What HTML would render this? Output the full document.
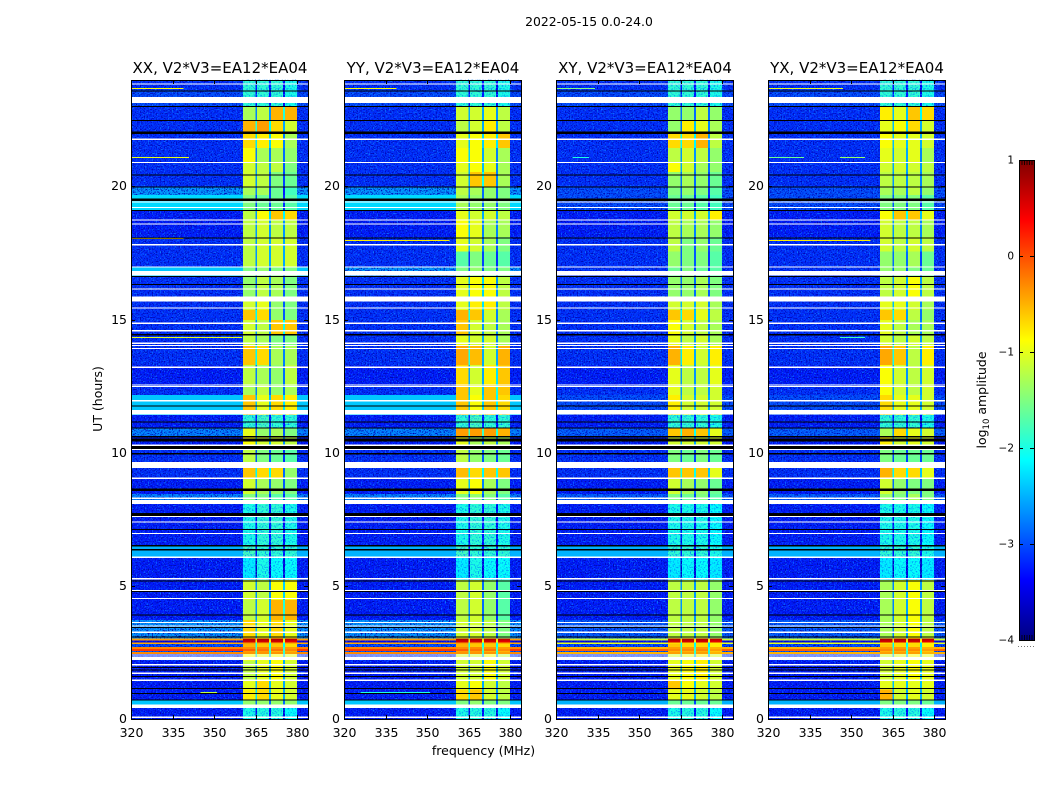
<!DOCTYPE html>
<html lang="en">
<head>
<meta charset="utf-8">
<title>2022-05-15 0.0-24.0</title>
<style>
html,body{margin:0;padding:0;background:#fff;}
svg{display:block;font-family:"DejaVu Sans","Liberation Sans",sans-serif;}
text{fill:#000;}
</style>
</head>
<body>
<svg id="figure" xmlns="http://www.w3.org/2000/svg" width="1050" height="800" viewBox="0 0 1050 800">
  <defs>
    <filter id="speckle-light" x="0" y="0" width="1" height="1" color-interpolation-filters="sRGB">
      <feTurbulence type="fractalNoise" baseFrequency="0.75" numOctaves="1" seed="4"/>
      <feColorMatrix type="matrix" values="0 0 0 0 0.05  0 0 0 0 0.5  0 0 0 0 1  4 0 0 0 -2.05"/>
    </filter>
    <filter id="speckle-dark" x="0" y="0" width="1" height="1" color-interpolation-filters="sRGB">
      <feTurbulence type="fractalNoise" baseFrequency="0.75" numOctaves="1" seed="11"/>
      <feColorMatrix type="matrix" values="0 0 0 0 0  0 0 0 0 0.02  0 0 0 0 0.7  4.5 0 0 0 -2.2"/>
    </filter>
    <filter id="speckle-band" x="0" y="0" width="1" height="1" color-interpolation-filters="sRGB">
      <feTurbulence type="fractalNoise" baseFrequency="0.7" numOctaves="1" seed="7"/>
      <feColorMatrix type="matrix" values="0 0 0 0 0  0 0 0 0 0.5  0 0 0 0 1  4 0 0 0 -2"/>
    </filter>
    <linearGradient id="jet-gradient" x1="0" y1="1" x2="0" y2="0"></linearGradient>
  </defs>
  <text x="589" y="26" font-size="12.4" text-anchor="middle">2022-05-15 0.0-24.0</text>
  <text transform="translate(102,399) rotate(-90)" font-size="12.5" text-anchor="middle">UT (hours)</text>
  <text x="483.5" y="755" font-size="12.5" text-anchor="middle">frequency (MHz)</text>
  <g id="panels"></g>
  <g id="colorbar"></g>
  <text transform="translate(986,400) rotate(-90)" font-size="12.5" text-anchor="middle">log<tspan font-size="8.5" dy="3">10</tspan><tspan dy="-3"> amplitude</tspan></text>
</svg>
<script>
// ---- data ----
const panelTitles = ["XX, V2*V3=EA12*EA04", "YY, V2*V3=EA12*EA04", "XY, V2*V3=EA12*EA04", "YX, V2*V3=EA12*EA04"];
const xTicks = [320, 335, 350, 365, 380];
const yTicks = [0, 5, 10, 15, 20];
const colorTicks = [1, 0, -1, -2, -3, -4];
const spwEdges = [[360.4, 364.9], [365.5, 369.9], [370.5, 374.9], [375.6, 380.0]];

// UT (hours) at which each row of levels begins
const rowStartUT = [0, 0.42, 0.71, 1.1, 1.46, 2.2, 2.44, 2.52, 2.55, 2.63, 2.70, 2.82, 2.87, 2.95, 3.02, 3.72, 4.47, 5.22, 6.08, 6.5, 8.07, 8.45, 9.05, 9.42, 10.14, 10.63, 10.93, 11.42, 12.17, 12.54, 13.29, 14.04, 14.46, 14.98, 15.36, 15.7, 16.63, 17.0, 17.55, 18.1, 18.74, 19.11, 19.68, 19.98, 20.55, 20.92, 21.45, 22.04, 22.49, 23.02, 23.62];

// Each row: background, spw1, spw2, spw3, spw4 (log10 amplitude)
const levelsXX = [
 [-3.25,-2.0,-1.95,-1.95,-2.1],[-2.4,-1.4,-1.4,-1.4,-1.4],[-3.25,-0.8,-0.7,-1.0,-1.1],[-3.25,-1.0,-0.7,-1.0,-1.1],[-3.25,-1.2,-1.0,-0.9,-1.1],
 [-3.15,-0.9,-1.0,-0.9,-1.0],
 [-0.3,-0.35,-0.35,-0.35,-0.4],[-2.9,-0.4,-0.4,-0.5,-0.5],[0.1,-0.1,-0.2,-0.2,-0.3],[-0.25,-0.3,-0.3,-0.35,-0.4],[-3.0,-0.5,-0.6,-0.6,-0.7],[-0.45,-0.4,-0.5,-0.5,-0.5],[-3.4,0.6,0.6,0.6,0.5],[-0.4,0.75,0.75,0.75,0.7],
 [-2.6,-0.7,-1.0,-0.7,-1.0],[-3.25,-1.2,-1.1,-0.5,-0.5],[-3.25,-1.1,-1.2,-0.9,-0.9],[-3.25,-2.2,-2.0,-2.1,-2.1],[-2.5,-1.8,-1.9,-1.9,-1.9],
 [-3.25,-2.0,-1.9,-1.9,-2.0],[-2.7,-1.5,-1.5,-1.7,-1.7],[-3.25,-1.1,-1.3,-1.4,-1.5],[-3.15,-0.6,-0.7,-0.7,-1.4],[-3.15,-1.2,-1.5,-1.6,-1.7],
 [-3.25,-0.9,-1.1,-1.1,-1.2],[-2.7,-1.0,-1.4,-1.3,-1.5],[-3.25,-1.9,-1.8,-1.9,-1.9],[-2.4,-0.6,-1.0,-0.7,-0.8],[-3.15,-1.3,-1.2,-1.4,-1.3],
 [-3.25,-1.2,-1.3,-1.4,-1.2],[-3.15,-0.6,-0.7,-1.3,-1.3],[-3.15,-1.2,-1.3,-1.5,-1.5],[-3.15,-1.1,-1.2,-0.6,-0.6],[-3.15,-0.6,-0.7,-1.4,-1.5],[-3.15,-1.1,-1.0,-1.4,-1.5],
 [-3.15,-1.4,-1.2,-1.3,-1.5],[-2.4,-1.5,-1.4,-1.5,-1.5],[-3.15,-1.2,-1.1,-1.1,-1.1],[-3.15,-1.2,-1.1,-1.1,-1.1],[-3.25,-1.2,-1.1,-1.2,-1.2],[-3.25,-1.2,-0.9,-0.6,-0.7],
 [-2.3,-1.5,-1.6,-1.6,-1.7],[-2.6,-1.3,-1.3,-1.6,-1.8],[-3.15,-1.1,-1.2,-1.5,-1.6],[-3.15,-1.1,-1.2,-1.2,-1.5],[-3.15,-0.9,-1.3,-1.3,-1.4],[-3.15,-0.7,-0.8,-0.9,-1.3],[-3.15,-0.5,-0.4,-0.7,-1.1],
 [-3.15,-1.3,-1.2,-0.5,-0.5],[-3.0,-1.9,-1.9,-1.9,-2.0],[-3.15,-1.9,-1.9,-1.9,-2.0]
];
const levelsYY = [
 [-3.25,-2.0,-1.95,-1.95,-2.1],[-2.4,-1.5,-1.4,-1.5,-1.5],[-3.25,-0.7,-0.6,-1.1,-1.2],[-3.25,-1.0,-0.9,-1.1,-1.2],[-3.25,-1.1,-1.1,-0.9,-1.1],
 [-3.15,-1.1,-1.1,-0.9,-1.2],
 [-0.3,-0.35,-0.35,-0.35,-0.4],[-2.9,-0.4,-0.4,-0.5,-0.5],[0.1,-0.1,-0.2,-0.2,-0.3],[-0.25,-0.3,-0.3,-0.35,-0.4],[-3.0,-0.5,-0.6,-0.6,-0.7],[-0.45,-0.4,-0.5,-0.5,-0.5],[-3.4,0.6,0.6,0.6,0.5],[-0.4,0.75,0.75,0.75,0.7],
 [-2.6,-1.1,-1.1,-1.2,-1.5],[-3.25,-1.2,-1.1,-1.4,-1.7],[-3.25,-1.2,-1.1,-1.4,-1.7],[-3.25,-2.2,-2.0,-2.1,-2.1],[-2.5,-1.8,-1.9,-1.9,-1.9],
 [-3.25,-2.0,-1.9,-1.9,-2.0],[-2.7,-1.5,-1.4,-1.5,-1.7],[-3.25,-1.0,-0.9,-1.3,-1.5],[-3.15,-0.55,-0.7,-0.6,-0.6],[-3.15,-1.2,-1.4,-1.5,-1.6],
 [-3.25,-1.0,-1.3,-1.2,-1.3],[-2.7,-0.4,-0.4,-0.4,-0.5],[-3.25,-1.9,-1.8,-1.9,-1.9],[-2.4,-0.6,-0.9,-0.6,-0.7],[-3.15,-0.6,-1.0,-0.6,-0.6],
 [-3.25,-0.7,-1.1,-0.8,-0.6],[-3.15,-0.45,-0.55,-1.1,-0.5],[-3.15,-1.0,-1.1,-1.1,-1.3],[-3.15,-0.6,-1.1,-1.2,-1.3],[-3.15,-0.5,-0.6,-1.1,-1.3],[-3.15,-1.0,-0.8,-0.8,-1.2],
 [-3.15,-1.0,-0.9,-0.9,-1.2],[-2.6,-1.5,-1.4,-1.5,-1.5],[-3.15,-1.7,-1.5,-1.6,-1.7],[-3.15,-1.0,-1.1,-1.3,-1.5],[-3.25,-0.9,-1.0,-1.3,-1.3],[-3.25,-1.0,-1.1,-1.1,-1.2],
 [-2.3,-1.3,-1.4,-1.4,-1.5],[-2.6,-1.2,-1.3,-1.4,-1.5],[-3.15,-1.1,-0.6,-0.6,-1.3],[-3.15,-1.0,-0.9,-1.0,-1.3],[-3.15,-0.9,-0.9,-1.1,-1.3],[-3.15,-1.0,-0.9,-0.8,-0.6],[-3.15,-1.2,-1.1,-0.8,-1.2],
 [-3.15,-1.1,-1.1,-1.0,-1.2],[-3.0,-1.9,-1.9,-1.9,-2.0],[-3.15,-1.9,-1.9,-1.9,-2.0]
];
const levelsXY = [
 [-3.25,-2.0,-1.95,-1.95,-2.1],[-2.5,-1.6,-1.6,-1.6,-1.6],[-3.25,-1.0,-1.0,-1.1,-1.2],[-3.25,-0.6,-0.9,-1.0,-1.1],[-3.25,-1.0,-0.9,-0.8,-1.1],
 [-3.15,-1.1,-1.0,-0.8,-1.1],
 [-0.5,-0.4,-0.4,-0.4,-0.5],[-2.9,-0.5,-0.5,-0.5,-0.6],[-0.1,-0.3,-0.3,-0.3,-0.4],[-0.5,-0.4,-0.4,-0.4,-0.5],[-3.0,-0.6,-0.7,-0.7,-0.8],[-1.0,-0.7,-0.7,-0.7,-0.8],[-3.4,0.6,0.6,0.6,0.5],[-1.1,0.75,0.75,0.75,0.7],
 [-2.9,-1.2,-1.2,-1.2,-1.4],[-3.25,-1.2,-1.2,-1.2,-1.4],[-3.25,-1.2,-1.2,-1.2,-1.4],[-3.25,-2.2,-2.1,-2.1,-2.2],[-2.5,-1.9,-1.9,-1.9,-2.0],
 [-3.25,-2.0,-2.0,-2.0,-2.1],[-2.9,-1.5,-1.6,-1.5,-1.7],[-3.25,-1.1,-1.3,-1.4,-1.6],[-3.15,-0.6,-0.6,-0.6,-1.0],[-3.15,-1.5,-1.6,-1.5,-1.6],
 [-3.25,-1.1,-1.1,-1.1,-1.1],[-2.9,-0.6,-0.5,-0.6,-1.0],[-3.25,-1.9,-1.9,-1.9,-2.0],[-3.0,-0.8,-1.1,-1.1,-1.1],[-3.15,-1.0,-1.2,-1.2,-1.1],
 [-3.25,-1.0,-1.2,-1.2,-1.0],[-3.15,-0.5,-0.8,-1.1,-0.8],[-3.15,-1.0,-1.2,-1.1,-1.3],[-3.15,-0.9,-1.1,-1.2,-1.3],[-3.15,-0.6,-0.7,-1.0,-1.2],[-3.15,-1.1,-1.1,-1.1,-1.3],
 [-3.15,-1.4,-1.4,-1.3,-1.5],[-3.15,-1.6,-1.5,-1.6,-1.7],[-3.15,-1.4,-1.5,-1.5,-1.7],[-3.15,-1.2,-1.5,-1.4,-1.6],[-3.25,-1.2,-1.3,-1.3,-1.4],[-3.25,-1.1,-1.1,-1.1,-0.8],
 [-3.0,-1.6,-1.6,-1.7,-1.8],[-3.0,-1.5,-1.4,-1.5,-1.7],[-3.15,-1.4,-1.3,-1.4,-1.6],[-3.15,-0.9,-1.1,-1.3,-1.4],[-3.15,-1.2,-1.1,-1.2,-1.4],[-3.15,-0.7,-0.7,-0.5,-1.2],[-3.15,-1.4,-0.8,-1.0,-1.3],
 [-3.15,-1.4,-1.4,-1.2,-1.4],[-3.0,-1.9,-1.9,-1.9,-2.0],[-3.15,-1.9,-1.9,-1.9,-2.0]
];
const levelsYX = [
 [-3.25,-2.0,-1.95,-1.95,-2.1],[-2.5,-1.5,-1.5,-1.5,-1.6],[-3.25,-0.5,-1.1,-1.0,-1.1],[-3.25,-1.0,-1.0,-1.0,-1.0],[-3.25,-1.1,-1.0,-0.9,-1.0],
 [-3.15,-1.1,-1.0,-0.9,-1.0],
 [-0.5,-0.4,-0.4,-0.4,-0.5],[-2.9,-0.5,-0.5,-0.5,-0.6],[-0.1,-0.3,-0.3,-0.3,-0.4],[-0.5,-0.4,-0.4,-0.4,-0.5],[-3.0,-0.6,-0.7,-0.7,-0.8],[-1.0,-0.7,-0.7,-0.7,-0.8],[-3.4,0.6,0.6,0.6,0.5],[-1.1,0.75,0.75,0.75,0.7],
 [-2.9,-1.3,-1.1,-0.9,-1.2],[-3.25,-1.3,-1.1,-0.9,-1.2],[-3.25,-1.3,-1.1,-0.9,-1.2],[-3.25,-2.2,-2.1,-2.1,-2.2],[-2.5,-1.9,-1.9,-1.9,-2.0],
 [-3.25,-2.0,-2.0,-2.0,-2.1],[-2.9,-1.4,-1.5,-1.3,-1.5],[-3.25,-1.1,-1.4,-1.5,-1.5],[-3.15,-0.5,-0.7,-0.7,-1.0],[-3.15,-1.5,-1.6,-1.6,-1.6],
 [-3.25,-0.8,-1.1,-1.0,-1.1],[-2.9,-1.3,-0.7,-1.0,-1.1],[-3.25,-1.9,-1.9,-1.9,-2.0],[-3.0,-0.7,-1.0,-1.0,-1.1],[-3.15,-0.9,-1.1,-1.2,-1.1],
 [-3.25,-0.9,-1.1,-1.2,-1.1],[-3.15,-0.45,-0.6,-1.2,-0.8],[-3.15,-1.1,-1.2,-1.1,-1.2],[-3.15,-1.0,-1.2,-1.3,-1.3],[-3.15,-0.6,-0.7,-1.2,-1.4],[-3.15,-1.0,-1.0,-1.1,-1.3],
 [-3.15,-1.2,-1.1,-0.9,-1.2],[-3.15,-1.4,-1.4,-1.5,-1.6],[-3.15,-1.4,-1.4,-1.3,-1.6],[-3.15,-1.1,-1.2,-1.1,-1.2],[-3.25,-1.1,-1.2,-1.2,-1.3],[-3.25,-0.9,-0.6,-0.6,-1.0],
 [-3.0,-1.5,-1.5,-1.5,-1.7],[-3.0,-1.3,-1.3,-1.2,-1.4],[-3.15,-1.2,-1.2,-1.2,-1.3],[-3.15,-1.1,-1.1,-1.1,-1.2],[-3.15,-1.0,-1.1,-1.0,-1.3],[-3.15,-0.9,-1.0,-1.0,-1.1],[-3.15,-1.0,-0.9,-0.7,-1.1],
 [-3.15,-0.8,-1.0,-0.6,-0.7],[-3.0,-1.9,-1.9,-1.9,-2.0],[-3.15,-1.9,-1.9,-1.9,-2.0]
];
const panelLevels = [levelsXX, levelsYY, levelsXY, levelsYX];

// Flagged (no data) and zero-amplitude time ranges, UT hours
const whiteRowsUT = [[0.04,0.10],[0.41,0.54],[1.43,1.48],[1.69,1.74],[2.01,2.06],[2.216,2.339],[2.38,2.42],[3.23,3.28],[3.47,3.51],[3.61,3.65],[4.50,4.55],[4.79,4.84],[5.24,5.29],[6.05,6.11],[6.94,6.99],[7.37,7.42],[7.58,7.63],[8.07,8.22],[8.27,8.31],[9.01,9.06],[9.43,9.65],[10.10,10.15],[10.26,10.30],[11.43,11.60],[11.73,11.77],[11.93,11.98],[12.46,12.50],[12.53,12.57],[13.18,13.23],[13.89,13.93],[14.00,14.04],[14.09,14.13],[14.56,14.60],[14.84,14.88],[15.42,15.46],[15.67,15.86],[16.12,16.16],[16.66,16.83],[16.96,17.00],[17.79,17.83],[18.57,18.61],[18.72,18.76],[19.19,19.23],[19.39,19.43],[20.87,20.91],[21.75,21.79],[23.13,23.36],[23.83,23.87]];
const blackRowsUT = [[0.70,0.74],[0.93,0.97],[1.13,1.17],[1.57,1.61],[1.82,1.86],[1.92,1.96],[3.06,3.10],[3.42,3.46],[3.88,3.92],[4.76,4.80],[5.17,5.21],[6.33,6.38],[6.48,6.53],[7.10,7.14],[7.62,7.73],[8.56,8.66],[9.94,9.98],[10.14,10.25],[10.42,10.53],[10.58,10.62],[10.90,10.94],[11.14,11.18],[11.73,11.77],[14.41,14.45],[16.30,16.34],[16.60,16.64],[18.05,18.09],[19.08,19.12],[19.45,19.55],[19.95,19.99],[20.40,20.44],[21.97,22.06],[22.46,22.50],[22.98,23.02],[23.57,23.61]];

// Narrow interference traces: panel index, UT, start MHz, end MHz, level
const rfiTraces = [
 [0,23.68,320,339,-0.9],[0,21.1,320,341,-1.0],[0,18.07,320,339,-0.7],[0,14.35,320,360,-1.0],[0,1.0,345,351,-1.2],
 [1,23.68,320,339,-0.9],[1,18.0,320,358,-0.8],[1,1.0,326,351,-2.0],
 [2,23.68,320,334,-1.5],[2,21.1,326,332,-2.0],
 [3,23.68,320,347,-1.0],[3,21.1,320,333,-1.6],[3,21.1,346,355,-1.4],[3,18.0,320,357,-0.8],[3,14.35,346,355,-1.8]
];

// ---- layout & scales ----
const SVGNS = "http://www.w3.org/2000/svg";
const panelLeft = [131, 344, 556, 768];
const panelTop = 80, panelBottom = 719, panelWidth = 177;
const pxPerMHz = 2.77, pxPerHour = 26.63;
const xScale = (mhz) => (mhz - 320) * pxPerMHz;
const yScale = (ut) => panelBottom - ut * pxPerHour;
const cbLeft = 1019, cbWidth = 15, cbTop = 160, cbBottom = 640;
const cbScale = (v) => cbBottom - (v + 4) / 5 * (cbBottom - cbTop);
const smoothBackgroundAbove = -2.6;

function jet(v) {
  const t = Math.max(0, Math.min(1, (v + 4) / 5));
  const c = (x) => Math.round(255 * Math.max(0, Math.min(1, x)));
  return "rgb(" + c(Math.min(4 * t - 1.5, -4 * t + 4.5)) + "," + c(Math.min(4 * t - 0.5, -4 * t + 3.5)) + "," + c(Math.min(4 * t + 0.5, -4 * t + 2.5)) + ")";
}
function make(tag, attrs, parent) {
  const el = document.createElementNS(SVGNS, tag);
  for (const k in attrs) el.setAttribute(k, attrs[k]);
  parent.appendChild(el);
  return el;
}
function minus(v) { return String(v).replace("-", "\u2212"); }

const panelsRoot = document.getElementById("panels");
panelTitles.forEach((title, p) => {
  const levels = panelLevels[p];
  const g = make("g", { transform: "translate(" + panelLeft[p] + ",0)" }, panelsRoot);
  
  

  const rowTop = (r) => yScale(r + 1 < rowStartUT.length ? rowStartUT[r + 1] : 24);
  const rowHeight = (r) => yScale(rowStartUT[r]) - rowTop(r);

  // quiet background cells take the noise texture
  const heat = make("g", { "shape-rendering": "crispEdges" }, g);
  
  
  levels.forEach((row, r) => {
    const bgCell = make("rect", { x: 0, y: rowTop(r), width: panelWidth, height: rowHeight(r), fill: jet(row[0]) }, heat);
    
    
  });

  const lightGrain = make("rect", { x: 0, y: panelTop, width: panelWidth, height: panelBottom - panelTop, filter: "url(#speckle-light)" }, g);
  
  
  const darkGrain = make("rect", { x: 0, y: panelTop, width: panelWidth, height: panelBottom - panelTop, filter: "url(#speckle-dark)" }, g);
  
  

  // bright broadband rows are smooth, so they sit above the texture
  const hot = make("g", { "shape-rendering": "crispEdges" }, g);
  
  
  levels.forEach((row, r) => {
    if (row[0] > smoothBackgroundAbove) {
      const hotCell = make("rect", { x: 0, y: rowTop(r), width: panelWidth, height: rowHeight(r), fill: jet(row[0]) }, hot);
      
      
    }
  });

  // RFI traces
  rfiTraces.filter((d) => d[0] === p).forEach((d) => {
    const trace = make("rect", { x: xScale(d[2]), y: Math.round(yScale(d[1])), width: xScale(d[3]) - xScale(d[2]), height: 1, fill: jet(d[4]), "shape-rendering": "crispEdges" }, g);
    
    
  });

  // spectral-window cells
  const bands = make("g", { "shape-rendering": "crispEdges" }, g);
  
  
  levels.forEach((row, r) => {
    const y = rowTop(r), h = rowHeight(r);
    spwEdges.forEach((edge, s) => {
      const cell = make("rect", { x: xScale(edge[0]), y: y, width: xScale(edge[1]) - xScale(edge[0]), height: h, fill: jet(row[s + 1]) }, bands);
      
      
      if (s < 3) {
        const gap = make("rect", { x: xScale(edge[1]), y: y, width: xScale(spwEdges[s + 1][0]) - xScale(edge[1]), height: h, fill: jet(Math.min(row[s + 1], row[s + 2]) - 1.45) }, bands);
        
        
      }
    });
    const mean = (row[1] + row[2] + row[3] + row[4]) / 4;
    if (mean < -1.75) {
      const x0 = xScale(spwEdges[0][0]), x1 = xScale(spwEdges[3][1]);
      const grain = make("rect", { x: x0, y: y, width: x1 - x0, height: h, filter: "url(#speckle-band)" }, g);
      
      
    }
  });

  // flagged and zero rows
  const flags = make("g", { "shape-rendering": "crispEdges" }, g);
  
  
  whiteRowsUT.forEach((d) => {
    const row = make("rect", { x: 0, y: yScale(d[1]), width: panelWidth, height: Math.max(1, yScale(d[0]) - yScale(d[1])), fill: "#fff" }, flags);
    
    
  });
  blackRowsUT.forEach((d) => {
    const row = make("rect", { x: 0, y: yScale(d[1]), width: panelWidth, height: Math.max(1, yScale(d[0]) - yScale(d[1])), fill: "#000" }, flags);
    
    
  });

  // frame
  const frame = make("rect", { x: 0.5, y: panelTop + 0.5, width: panelWidth, height: panelBottom - panelTop, fill: "none", stroke: "#000", "stroke-width": 1, "shape-rendering": "crispEdges" }, g);
  
  

  // title
  const ttl = make("text", { x: panelWidth / 2 + 0.5, y: 73, "font-size": 15, "text-anchor": "middle" }, g);
  
  
  ttl.textContent = title;

  // x ticks
  xTicks.forEach((v) => {
    const x = Math.round(xScale(v)) + 0.5;
    const bottomTick = make("line", { x1: x, x2: x, y1: panelBottom, y2: panelBottom - 4, stroke: "#000", "stroke-width": 1 }, g);
    
    
    const topTick = make("line", { x1: x, x2: x, y1: panelTop, y2: panelTop + 4, stroke: "#000", "stroke-width": 1 }, g);
    
    
    const lab = make("text", { x: x, y: 737, "font-size": 12.5, "text-anchor": "middle" }, g);
    
    
    lab.textContent = v;
  });

  // y ticks
  yTicks.forEach((v) => {
    const y = Math.round(yScale(v)) + 0.5;
    const leftTick = make("line", { x1: 0, x2: 4, y1: y, y2: y, stroke: "#000", "stroke-width": 1 }, g);
    
    
    const rightTick = make("line", { x1: panelWidth, x2: panelWidth - 4, y1: y, y2: y, stroke: "#000", "stroke-width": 1 }, g);
    
    
    const lab = make("text", { x: -4, y: y + 3.5, "font-size": 12.5, "text-anchor": "end" }, g);
    
    
    lab.textContent = v;
  });
});

// ---- colorbar ----
const grad = document.getElementById("jet-gradient");
for (let i = 0; i <= 32; i++) {
  make("stop", { offset: (i / 32 * 100) + "%", "stop-color": jet(-4 + 5 * i / 32) }, grad);
}
const cb = document.getElementById("colorbar");
const cbBar = make("rect", { x: cbLeft, y: cbTop, width: cbWidth, height: cbBottom - cbTop, fill: "url(#jet-gradient)" }, cb);


const cbFrame = make("rect", { x: cbLeft + 0.5, y: cbTop + 0.5, width: cbWidth, height: cbBottom - cbTop, fill: "none", stroke: "#000", "stroke-width": 1, "shape-rendering": "crispEdges" }, cb);


colorTicks.forEach((v) => {
  const y = Math.round(cbScale(v)) + 0.5;
  const lab = make("text", { x: 1014, y: y + 3, "font-size": 10.5, "text-anchor": "end" }, cb);
  
  
  lab.textContent = minus(v);
  const tl = make("line", { x1: cbLeft, x2: cbLeft + 4, y1: y, y2: y, stroke: "#000", "stroke-width": 1 }, cb);
  
  
  const tr = make("line", { x1: cbLeft + cbWidth - 4, x2: cbLeft + cbWidth, y1: y, y2: y, stroke: "#000", "stroke-width": 1 }, cb);
  
  
});
for (let i = 0; i < 5; i++) {
  const x = cbLeft + 3 + i * 2.5;
  const a = make("line", { x1: x, x2: x, y1: cbTop, y2: cbTop + 5, stroke: "#000", "stroke-width": 0.8 }, cb);
  
  
  const b = make("line", { x1: x, x2: x, y1: cbBottom, y2: cbBottom - 5, stroke: "#000", "stroke-width": 0.8 }, cb);
  
  
}
for (let i = 0; i < 6; i++) {
  const dot = make("rect", { x: 1018 + i * 3, y: 646, width: 1, height: 1, fill: "#777" }, cb);
  
  
}
</script>
</body>
</html>
